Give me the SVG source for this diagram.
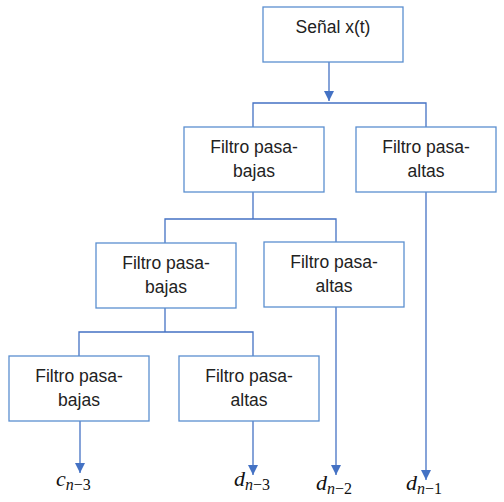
<svg xmlns="http://www.w3.org/2000/svg" width="504" height="502" viewBox="0 0 504 502">
<defs>
<marker id="ah" viewBox="0 0 10 10" refX="10" refY="5" markerWidth="10" markerHeight="10" markerUnits="userSpaceOnUse" orient="auto">
<path d="M0,0 L10,5 L0,10 z" fill="#4472C4"/>
</marker>
<style>
.box{fill:#fff;stroke:#5B8FD0;stroke-width:1.3}
.t{font-family:"Liberation Sans",Arial,sans-serif;font-size:17.5px;fill:#222;text-anchor:middle}
.ln{fill:none;stroke:#4472C4;stroke-width:1.3}
.m{font-family:"Liberation Serif","DejaVu Serif",serif;fill:#111}
.i{font-style:italic}
.mv{font-size:22px}
.ms{font-size:16px}
</style>
</defs>
<rect width="504" height="502" fill="#fff"/>
<g id="connectors">
<line class="ln" x1="329" y1="62" x2="329" y2="101" marker-end="url(#ah)"/>
<polyline class="ln" points="253,127 253,103 426,103 426,127"/>
<polyline class="ln" points="253,192 253,219"/>
<polyline class="ln" points="165,243 165,219 336,219 336,242"/>
<polyline class="ln" points="165,308 165,332"/>
<polyline class="ln" points="79,356 79,332 253,332 253,356"/>
<line class="ln" x1="426" y1="192" x2="426" y2="480" marker-end="url(#ah)"/>
<line class="ln" x1="336" y1="307" x2="336" y2="475" marker-end="url(#ah)"/>
<line class="ln" x1="80" y1="421" x2="80" y2="473" marker-end="url(#ah)"/>
<line class="ln" x1="253" y1="421" x2="253" y2="475" marker-end="url(#ah)"/>
</g>
<g id="signal">
<rect class="box" x="263" y="7" width="140" height="55"/>
<text class="t" x="333" y="33">Señal x(t)</text>
</g>
<g id="lp1">
<rect class="box" x="184" y="127" width="140" height="65"/>
<text class="t" x="254" y="153">Filtro pasa-</text>
<text class="t" x="254" y="177">bajas</text>
</g>
<g id="hp1">
<rect class="box" x="356" y="127" width="140" height="65"/>
<text class="t" x="426" y="153">Filtro pasa-</text>
<text class="t" x="426" y="177">altas</text>
</g>
<g id="lp2">
<rect class="box" x="96" y="243" width="140" height="65"/>
<text class="t" x="166" y="269">Filtro pasa-</text>
<text class="t" x="166" y="293">bajas</text>
</g>
<g id="hp2">
<rect class="box" x="264" y="242" width="140" height="65"/>
<text class="t" x="334" y="268">Filtro pasa-</text>
<text class="t" x="334" y="292">altas</text>
</g>
<g id="lp3">
<rect class="box" x="9" y="356" width="140" height="65"/>
<text class="t" x="79" y="382">Filtro pasa-</text>
<text class="t" x="79" y="406">bajas</text>
</g>
<g id="hp3">
<rect class="box" x="179" y="356" width="140" height="65"/>
<text class="t" x="249" y="382">Filtro pasa-</text>
<text class="t" x="249" y="406">altas</text>
</g>
<g id="labels">
<text class="m" x="56" y="486"><tspan class="mv i">c</tspan><tspan class="ms i" dy="4">n</tspan><tspan class="ms">−3</tspan></text>
<text class="m" x="234" y="486"><tspan class="mv i">d</tspan><tspan class="ms i" dy="4">n</tspan><tspan class="ms">−3</tspan></text>
<text class="m" x="316" y="490"><tspan class="mv i">d</tspan><tspan class="ms i" dy="4">n</tspan><tspan class="ms">−2</tspan></text>
<text class="m" x="406" y="490"><tspan class="mv i">d</tspan><tspan class="ms i" dy="4">n</tspan><tspan class="ms">−1</tspan></text>
</g>
</svg>
